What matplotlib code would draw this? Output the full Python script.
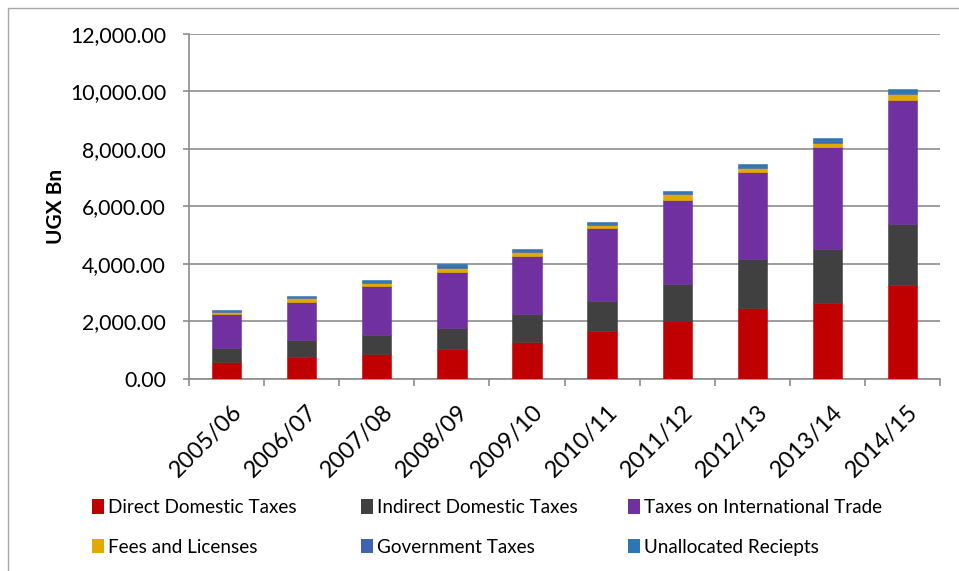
import matplotlib.pyplot as plt
import numpy as np
from matplotlib.patches import Patch, Rectangle
from matplotlib.ticker import FuncFormatter, FixedLocator
from matplotlib.transforms import ScaledTranslation

plt.rcParams['font.family'] = ['Lato', 'DejaVu Sans']

years = ['2005/06', '2006/07', '2007/08', '2008/09', '2009/10',
         '2010/11', '2011/12', '2012/13', '2013/14', '2014/15']

# UGX Bn
direct = [602, 755, 859, 1043, 1298, 1659, 2029, 2459, 2633, 3259]
indirect = [487, 591, 671, 742, 974, 1044, 1287, 1704, 1900, 2122]
trade = [1172, 1343, 1716, 1948, 2018, 2560, 2921, 3048, 3537, 4334]
fees = [69, 128, 83, 139, 116, 83, 187, 128, 139, 187]
government = [30, 30, 40, 45, 45, 40, 40, 50, 60, 50]
unallocated = [40, 40, 74, 71, 71, 64, 75, 78, 114, 135]

series = [
    ('Direct Domestic Taxes', direct, '#C00000'),
    ('Indirect Domestic Taxes', indirect, '#404040'),
    ('Taxes on International Trade', trade, '#7030A0'),
    ('Fees and Licenses', fees, '#E3A900'),
    ('Government Taxes', government, '#3F64AE'),
    ('Unallocated Reciepts', unallocated, '#2E75B6'),
]

fig = plt.figure(figsize=(9.59, 5.71), dpi=100)
ax = fig.add_axes([0.1971, 0.3363, 0.7831, 0.6042])

# chart border (partly outside the picture, as in the original)
fig.patches.append(Rectangle((8 / 959, -0.1), 1.2, 1 - 8 / 571 + 0.1,
                             transform=fig.transFigure, fill=False,
                             edgecolor='#a6a6a6', linewidth=1.0))

x = np.arange(len(years))
bottom = np.zeros(len(years))
for name, vals, col in series:
    ax.bar(x, vals, width=0.39, bottom=bottom, color=col, zorder=3,
           edgecolor=col, linewidth=0.4)
    bottom += np.array(vals)

ax.set_xlim(-0.5, len(years) - 0.5)
ax.set_ylim(0, 12000)
ax.set_yticks(np.arange(0, 12001, 2000))
ax.yaxis.set_major_formatter(FuncFormatter(lambda v, p: f'{v:,.2f}'))
ax.grid(axis='y', color='#8c8c8c', linewidth=1.2, zorder=0)

ax.set_xticks(x)
ax.set_xticklabels(years, rotation=45, ha='right', va='top',
                   rotation_mode='anchor', fontsize=16.8)
ax.tick_params(axis='x', length=0, pad=16)
shift = ScaledTranslation(5 / 100, 0, fig.dpi_scale_trans)
for lab in ax.get_xticklabels():
    lab.set_transform(lab.get_transform() + shift)
ax.xaxis.set_minor_locator(FixedLocator(np.arange(-0.5, len(years), 1)))
ax.tick_params(axis='x', which='minor', length=5, width=1.2, color='#8c8c8c')
ax.tick_params(axis='y', length=4.5, width=1.2, color='#8c8c8c',
               labelsize=15.3, pad=12)

for s in ['top', 'right']:
    ax.spines[s].set_visible(False)
for s in ['left', 'bottom']:
    ax.spines[s].set_color('#8c8c8c')
    ax.spines[s].set_linewidth(1.2)

ax.set_ylabel('UGX Bn', fontsize=15, fontweight='bold', labelpad=3)

# legend: three columns, two rows
col_x = [92, 361, 628]
for i, cx in enumerate(col_x):
    items = [series[i], series[i + 3]]
    handles = [Patch(facecolor=c, edgecolor='none') for _, _, c in items]
    fig.legend(handles, [n for n, _, _ in items], loc='upper left',
               bbox_to_anchor=(cx / 959, 1 - 499 / 571), frameon=False,
               fontsize=13.6, handlelength=0.62, handleheight=0.78,
               handletextpad=0.25, labelspacing=1.2, borderpad=0,
               borderaxespad=0)

fig.savefig('out.png', dpi=100)
